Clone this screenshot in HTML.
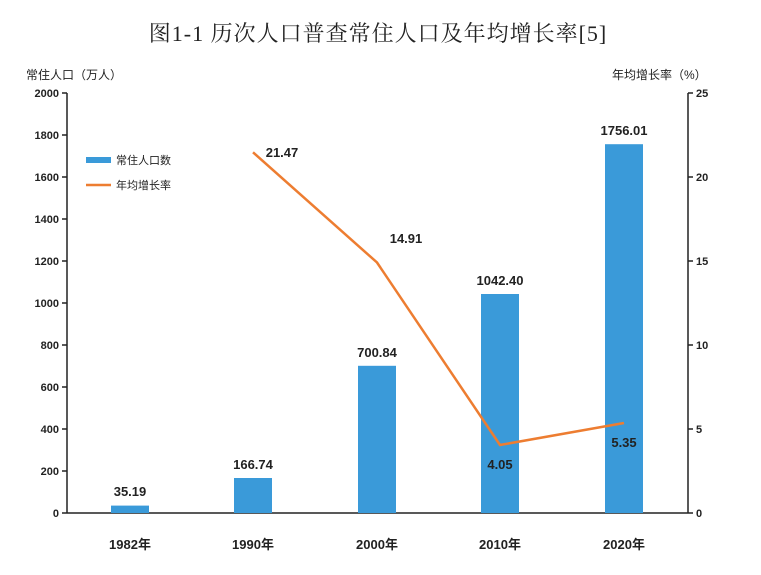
<!DOCTYPE html>
<html><head><meta charset="utf-8"><style>body{margin:0;background:#fff}svg{display:block}</style></head><body>
<svg width="761" height="575" xmlns="http://www.w3.org/2000/svg" font-family="Liberation Sans, Noto Sans CJK SC, sans-serif">
<text x="378" y="41" text-anchor="middle" font-size="22" letter-spacing="1" font-family="Liberation Serif, Noto Serif CJK SC, serif" fill="#222">图1-1 历次人口普查常住人口及年均增长率[5]</text>
<text x="26" y="79" font-size="12" fill="#222">常住人口（万人）</text>
<text x="612" y="79" font-size="12" fill="#222">年均增长率（%）</text>
<g stroke="#222" stroke-width="1.5">
<line x1="67" y1="93" x2="67" y2="513"/>
<line x1="688" y1="93" x2="688" y2="513"/>
<line x1="67" y1="513" x2="688" y2="513"/>
<line x1="62" y1="93" x2="67" y2="93"/><line x1="62" y1="135" x2="67" y2="135"/><line x1="62" y1="177" x2="67" y2="177"/><line x1="62" y1="219" x2="67" y2="219"/><line x1="62" y1="261" x2="67" y2="261"/><line x1="62" y1="303" x2="67" y2="303"/><line x1="62" y1="345" x2="67" y2="345"/><line x1="62" y1="387" x2="67" y2="387"/><line x1="62" y1="429" x2="67" y2="429"/><line x1="62" y1="471" x2="67" y2="471"/><line x1="62" y1="513" x2="67" y2="513"/>
<line x1="688" y1="93" x2="693" y2="93"/><line x1="688" y1="177" x2="693" y2="177"/><line x1="688" y1="261" x2="693" y2="261"/><line x1="688" y1="345" x2="693" y2="345"/><line x1="688" y1="429" x2="693" y2="429"/><line x1="688" y1="513" x2="693" y2="513"/>
</g>
<g font-size="11" fill="#222" text-anchor="end" font-weight="bold">
<text x="59" y="97">2000</text><text x="59" y="139">1800</text><text x="59" y="181">1600</text><text x="59" y="223">1400</text><text x="59" y="265">1200</text><text x="59" y="307">1000</text><text x="59" y="349">800</text><text x="59" y="391">600</text><text x="59" y="433">400</text><text x="59" y="475">200</text><text x="59" y="517">0</text>
</g>
<g font-size="11" fill="#222" font-weight="bold">
<text x="696" y="97">25</text><text x="696" y="181">20</text><text x="696" y="265">15</text><text x="696" y="349">10</text><text x="696" y="433">5</text><text x="696" y="517">0</text>
</g>
<g fill="#3a9ad9">
<rect x="111" y="505.6" width="38" height="7.4"/>
<rect x="234" y="478" width="38" height="35"/>
<rect x="358" y="365.8" width="38" height="147.2"/>
<rect x="481" y="294" width="38" height="219"/>
<rect x="605" y="144.2" width="38" height="368.8"/>
</g>
<polyline points="253,152.3 377,262.5 500,445 624,423" fill="none" stroke="#ed7d31" stroke-width="2.5"/>
<g font-size="13" fill="#222" text-anchor="middle" font-weight="bold">
<text x="130" y="496">35.19</text>
<text x="253" y="469">166.74</text>
<text x="377" y="357">700.84</text>
<text x="500" y="285">1042.40</text>
<text x="624" y="135">1756.01</text>
<text x="282" y="157">21.47</text>
<text x="406" y="243">14.91</text>
<text x="500" y="469">4.05</text>
<text x="624" y="447">5.35</text>
</g>
<rect x="86" y="157" width="25" height="6" fill="#3a9ad9"/>
<text x="116" y="164" font-size="11" fill="#222">常住人口数</text>
<line x1="86" y1="185" x2="111" y2="185" stroke="#ed7d31" stroke-width="2.5"/>
<text x="116" y="189" font-size="11" fill="#222">年均增长率</text>
<g font-size="13" fill="#222" text-anchor="middle" font-weight="bold">
<text x="130" y="549">1982年</text><text x="253" y="549">1990年</text><text x="377" y="549">2000年</text><text x="500" y="549">2010年</text><text x="624" y="549">2020年</text>
</g>
</svg>
</body></html>
